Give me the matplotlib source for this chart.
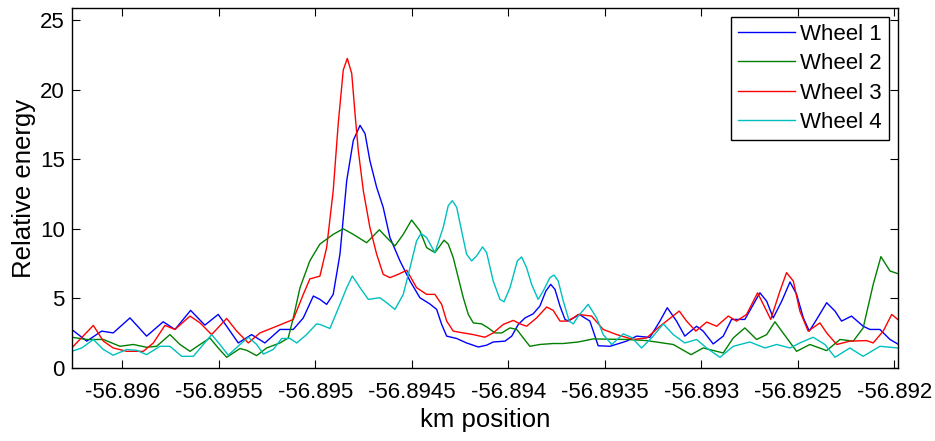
import matplotlib
matplotlib.use("Agg")
import matplotlib.pyplot as plt

plt.rcParams['font.family'] = ['Liberation Sans', 'DejaVu Sans']

# ---------------- data ----------------
w1_x = [-56.896262, -56.896184, -56.896107, -56.896047, -56.895960, -56.895874, -56.895788, -56.895727,
        -56.895646, -56.895572, -56.895503, -56.895459, -56.895399, -56.895330, -56.895261, -56.895183,
        -56.895114, -56.895062, -56.895010, -56.894976, -56.894941, -56.894907, -56.894872, -56.894837,
        -56.894803, -56.894768, -56.894742, -56.894717, -56.894682, -56.894648, -56.894613, -56.894561,
        -56.894509, -56.894458, -56.894406, -56.894371, -56.894345, -56.894319, -56.894267, -56.894216,
        -56.894155, -56.894112, -56.894078, -56.894017, -56.893982, -56.893948, -56.893913, -56.893871,
        -56.893836, -56.893805, -56.893780, -56.893758, -56.893732, -56.893706, -56.893689, -56.893654,
        -56.893632, -56.893577, -56.893534, -56.893473, -56.893387,
        -56.893335, -56.893266, -56.893214, -56.893176, -56.893128, -56.893085, -56.893024, -56.892990,
        -56.892938, -56.892886, -56.892843, -56.892774, -56.892696, -56.892661, -56.892627, -56.892583,
        -56.892540, -56.892506, -56.892471, -56.892440, -56.892402, -56.892350, -56.892307, -56.892273,
        -56.892221, -56.892161, -56.892126, -56.892074, -56.892022, -56.891982]
w1_y = [2.77, 1.93, 2.65, 2.52, 3.6, 2.29, 3.32, 2.77,
        4.14, 3.08, 3.85, 3.0, 1.8, 2.4, 1.8, 2.77,
        2.77, 3.6, 5.17, 4.93, 4.57, 5.29, 8.18, 13.46,
        16.34, 17.43, 16.83, 14.9, 12.98, 11.54, 9.37, 7.69,
        6.25, 5.05, 4.6, 4.21, 3.13, 2.29, 2.12, 1.8,
        1.51, 1.64, 1.87, 1.93, 2.29, 3.13, 3.6, 3.89,
        4.45, 5.53, 6.01, 5.65, 4.45, 3.49, 3.37, 3.66,
        3.85, 3.37, 1.6, 1.56, 1.93,
        2.29, 2.2, 3.37, 4.33, 3.37, 2.29, 3.0, 2.65,
        1.73, 2.29, 3.49, 3.49, 5.4, 4.8, 3.6, 4.8,
        6.18, 5.3, 3.6, 2.65, 3.49, 4.69, 4.09, 3.37,
        3.73, 3.0, 2.77, 2.77, 2.05, 1.73]

w2_x = [-56.896262, -56.896184, -56.896098, -56.896012, -56.895943, -56.895874, -56.895822, -56.895753,
        -56.895701, -56.895649, -56.895597, -56.895546, -56.895503, -56.895459, -56.895390, -56.895355,
        -56.895304, -56.895252, -56.895183, -56.895140, -56.895114, -56.895079, -56.895028, -56.894976,
        -56.894907, -56.894855, -56.894803, -56.894734, -56.894668, -56.894630, -56.894587, -56.894544,
        -56.894501, -56.894458, -56.894423, -56.894380, -56.894354, -56.894333, -56.894311, -56.894285,
        -56.894259, -56.894233, -56.894207, -56.894181, -56.894138, -56.894104, -56.894069, -56.894034,
        -56.893991, -56.893956, -56.893922, -56.893888, -56.893836, -56.893767, -56.893715, -56.893637,
        -56.893560, -56.893387,
        -56.893283, -56.893145, -56.893053, -56.892990, -56.892886, -56.892834, -56.892774, -56.892713,
        -56.892661, -56.892618, -56.892575, -56.892506, -56.892437, -56.892350, -56.892281, -56.892212,
        -56.892161, -56.892109, -56.892069, -56.892022, -56.891982]
w2_y = [2.21, 2.05, 2.05, 1.56, 1.69, 1.49, 1.56, 2.4,
        1.69, 1.2, 1.69, 2.16, 1.44, 0.77, 1.4, 1.27,
        0.89, 1.44, 1.8, 2.16, 3.6, 5.77, 7.7, 8.9,
        9.6, 10.0, 9.6, 9.0, 9.93, 9.37, 8.77, 9.6,
        10.63, 9.86, 8.65, 8.29, 8.77, 9.18, 8.9, 7.93,
        6.49, 5.05, 3.85, 3.24, 3.17, 2.88, 2.52, 2.52,
        2.88, 2.77, 2.16, 1.56, 1.69, 1.76, 1.76, 1.87,
        2.09, 2.05,
        1.97, 1.69, 0.96, 1.44, 1.08, 2.16, 2.88, 2.05,
        2.4, 3.32, 2.5, 1.2, 1.69, 1.25, 2.05, 1.93,
        2.88, 6.0, 8.0, 6.97, 6.78]

w3_x = [-56.896262, -56.896150, -56.896098, -56.896047, -56.895977, -56.895891, -56.895839, -56.895779,
        -56.895727, -56.895649, -56.895597, -56.895537, -56.895459, -56.895407, -56.895347, -56.895287,
        -56.895200, -56.895114, -56.895062, -56.895028, -56.894976, -56.894941, -56.894907, -56.894881,
        -56.894855, -56.894834, -56.894811, -56.894794, -56.894777, -56.894751, -56.894717, -56.894682,
        -56.894648, -56.894613, -56.894570, -56.894526, -56.894475, -56.894423, -56.894380, -56.894345,
        -56.894319, -56.894285, -56.894233, -56.894181, -56.894121, -56.894078, -56.894026, -56.893974,
        -56.893939, -56.893905, -56.893853, -56.893801, -56.893767, -56.893732, -56.893697, -56.893663,
        -56.893637, -56.893568,
        -56.893508, -56.893438, -56.893352, -56.893283, -56.893214, -56.893114, -56.893076, -56.893028,
        -56.892972, -56.892920, -56.892860, -56.892817, -56.892765, -56.892708, -56.892661, -56.892640,
        -56.892592, -56.892558, -56.892523, -56.892489, -56.892446, -56.892385, -56.892350, -56.892298,
        -56.892230, -56.892143, -56.892109, -56.892057, -56.892013, -56.891982]
w3_y = [1.44, 3.06, 1.93, 1.44, 1.2, 1.2, 1.8, 3.06,
        2.77, 3.73, 3.24, 2.4, 3.56, 2.65, 1.8, 2.52,
        3.0, 3.49, 5.29, 6.4, 6.6, 8.65, 12.74, 17.55,
        21.4, 22.24, 21.15, 18.27, 15.62, 12.74, 10.1, 8.18,
        6.73, 6.49, 6.73, 7.02, 5.77, 5.29, 5.29, 4.57,
        3.37, 2.65, 2.52, 2.4, 2.21, 2.52, 3.13, 3.42,
        3.17, 3.0, 3.6, 4.38, 4.14, 3.37, 3.37, 3.6,
        3.85, 3.73,
        2.77, 2.4, 2.05, 2.16, 3.0, 4.09, 3.37, 2.65,
        3.3, 3.0, 3.73, 3.37, 3.85, 5.4, 4.09, 3.49,
        5.53, 6.85, 6.25, 4.09, 2.65, 3.24, 2.52, 1.69,
        1.93, 1.97, 1.8, 2.65, 3.85, 3.49]

w4_x = [-56.896262, -56.896210, -56.896150, -56.896098, -56.896047, -56.895977, -56.895925, -56.895874,
        -56.895805, -56.895753, -56.895692, -56.895632, -56.895580, -56.895537, -56.895494, -56.895451,
        -56.895390, -56.895347, -56.895304, -56.895269, -56.895218, -56.895174, -56.895131, -56.895096,
        -56.895045, -56.894993, -56.894976, -56.894924, -56.894872, -56.894837, -56.894808, -56.894768,
        -56.894725, -56.894665, -56.894630, -56.894587, -56.894544, -56.894509, -56.894475, -56.894452,
        -56.894423, -56.894380, -56.894337, -56.894311, -56.894290, -56.894267, -56.894242, -56.894216,
        -56.894190, -56.894164, -56.894133, -56.894112, -56.894078, -56.894043, -56.894022, -56.893991,
        -56.893953, -56.893931, -56.893905, -56.893879, -56.893845, -56.893819, -56.893784, -56.893763,
        -56.893741, -56.893715, -56.893684, -56.893663, -56.893637, -56.893586,
        -56.893542, -56.893508, -56.893464, -56.893404, -56.893361, -56.893309,
        -56.893249, -56.893197, -56.893145, -56.893085, -56.893024, -56.892972, -56.892903, -56.892834,
        -56.892748, -56.892670, -56.892609, -56.892540, -56.892489, -56.892420, -56.892359, -56.892307,
        -56.892230, -56.892161, -56.892074, -56.891982]
w4_y = [1.2, 1.44, 2.05, 1.33, 0.92, 1.33, 1.27, 0.96,
        1.56, 1.56, 0.84, 0.84, 1.69, 2.4, 1.69, 0.92,
        1.69, 2.21, 1.7, 1.0, 1.33, 2.12, 2.12, 1.8,
        2.4, 3.17, 3.13, 2.84, 4.57, 5.77, 6.61, 5.77,
        4.93, 5.05, 4.69, 4.21, 5.29, 7.21, 9.13, 9.66,
        9.37, 8.29, 10.1, 11.66, 12.02, 11.54, 9.86, 8.18,
        7.69, 8.05, 8.7, 8.29, 6.25, 4.93, 4.76, 5.77,
        7.69, 7.98, 7.21, 6.01, 4.93, 5.53, 6.49, 6.68,
        6.25, 4.81, 3.37, 3.17, 3.73, 4.57,
        3.6, 2.4, 1.69, 2.45, 2.2, 1.44,
        2.29, 3.17, 2.4, 1.8, 2.05, 1.44, 0.77, 1.56,
        1.87, 1.44, 1.69, 1.44, 1.8, 2.21, 1.69, 0.77,
        1.44, 0.84, 1.56, 1.44]

labels = ["Wheel 1", "Wheel 2", "Wheel 3", "Wheel 4"]
colors = ["#0000ff", "#008000", "#ff0000", "#00bfbf"]
xticks = [-56.896, -56.8955, -56.895, -56.8945, -56.894, -56.8935, -56.893, -56.8925, -56.892]
xtick_labels = ["-56.896", "-56.8955", "-56.895", "-56.8945", "-56.894", "-56.8935", "-56.893", "-56.8925", "-56.892"]
yticks = [0, 5, 10, 15, 20, 25]

# ---------------- plot ----------------
fig = plt.figure(figsize=(9.35, 4.41), dpi=100)
ax = fig.add_axes([0.0767, 0.1655, 0.8834, 0.8164])

series = [(w1_x, w1_y), (w2_x, w2_y), (w3_x, w3_y), (w4_x, w4_y)]
for (xs, ys), lab, col in zip(series, labels, colors):
    ax.plot(xs, ys, color=col, lw=1.0, label=lab)

ax.set_xlim(-56.896262, -56.891982)
ax.set_ylim(0, 25.86)
ax.set_xticks(xticks)
ax.set_xticklabels(xtick_labels)
ax.set_yticks(yticks)
ax.tick_params(direction='in', length=6, width=0.8, top=True, right=True,
               labelsize=16, colors='black')
ax.tick_params(axis='x', pad=10)
ax.tick_params(axis='y', pad=5)
for s in ax.spines.values():
    s.set_linewidth(1.0)
    s.set_color('black')

ax.set_xlabel("km position", fontsize=18.5, labelpad=4)
ax.set_ylabel("Relative energy", fontsize=18.5, labelpad=3)

leg = ax.legend(loc='upper right', fontsize=16, frameon=True, fancybox=False,
                borderpad=0.3, handlelength=2.55, handletextpad=0.25, labelspacing=0.38,
                borderaxespad=0.0, bbox_to_anchor=(0.989, 0.975))
leg.get_frame().set_edgecolor('black')
leg.get_frame().set_linewidth(1.0)
leg.get_frame().set_alpha(1)

fig.savefig("out.png", dpi=100)
